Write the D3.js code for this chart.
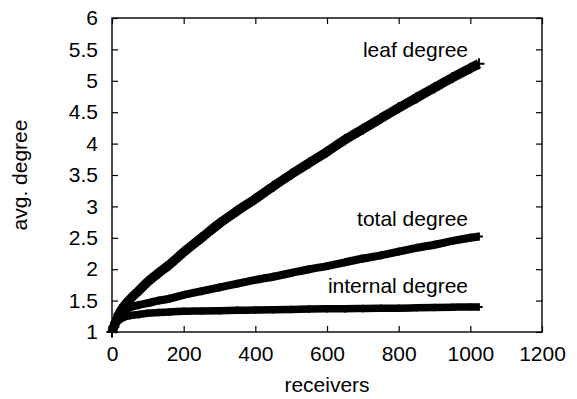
<!DOCTYPE html>
<html>
<head>
<meta charset="utf-8">
<script src="https://cdn.jsdelivr.net/npm/d3@7"></script>
<style>
  html, body { margin: 0; padding: 0; background: #fff; }
  svg { display: block; }
  text { font-family: "Liberation Sans", Arial, Helvetica, sans-serif; fill: #000; }
</style>
</head>
<body>
<svg id="chart" width="577" height="399"></svg>
<script>
// Number of receivers at which the averages were sampled
const receivers = [0, 5, 10, 20, 35, 50, 75, 100, 130, 160, 200, 250, 300, 350, 400, 450,
                   500, 550, 600, 650, 700, 750, 800, 850, 900, 950, 1000, 1024];

// Average degree series
const leafDegree = [1.00, 1.08, 1.15, 1.29, 1.42, 1.52, 1.66, 1.80, 1.94, 2.07, 2.27, 2.50,
                    2.73, 2.93, 3.12, 3.32, 3.51, 3.69, 3.87, 4.06, 4.23, 4.40, 4.57, 4.73,
                    4.89, 5.05, 5.20, 5.27];
const totalDegree = [1.00, 1.10, 1.17, 1.27, 1.35, 1.39, 1.43, 1.46, 1.50, 1.53, 1.59, 1.65,
                     1.71, 1.77, 1.83, 1.88, 1.94, 2.00, 2.05, 2.11, 2.17, 2.22, 2.28, 2.34,
                     2.39, 2.45, 2.50, 2.52];
const internalDegree = [1.00, 1.08, 1.13, 1.19, 1.24, 1.26, 1.28, 1.30, 1.31, 1.32, 1.33, 1.335,
                        1.34, 1.345, 1.35, 1.355, 1.36, 1.365, 1.37, 1.372, 1.375, 1.378, 1.38,
                        1.385, 1.39, 1.395, 1.40, 1.40];

const seriesNames = ["leaf degree", "total degree", "internal degree"];
const xTicks = [0, 200, 400, 600, 800, 1000, 1200];
const yTicks = [1, 1.5, 2, 2.5, 3, 3.5, 4, 4.5, 5, 5.5, 6];

const svg = d3.select("#chart");
const L = 112, R = 542, T = 18, B = 332;

const x = d3.scaleLinear().domain([0, 1200]).range([L, R]);
const y = d3.scaleLinear().domain([1, 6]).range([B, T]);

const fontSize = 21;

// Frame ticks on all four sides, pointing inward
svg.append("g")
  .attr("transform", `translate(0,${B})`)
  .call(d3.axisBottom(x).tickValues(xTicks).tickSize(-6).tickPadding(14).tickFormat(d3.format("d")))
  .call(g => g.select(".domain").remove())
  .call(g => g.selectAll("text").attr("font-size", fontSize).attr("font-family", null));

svg.append("g")
  .attr("transform", `translate(0,${T})`)
  .call(d3.axisTop(x).tickValues(xTicks).tickSize(-6).tickFormat(""))
  .call(g => g.select(".domain").remove());

svg.append("g")
  .attr("transform", `translate(${L},0)`)
  .call(d3.axisLeft(y).tickValues(yTicks).tickSize(-6).tickPadding(14).tickFormat(d3.format("~g")))
  .call(g => g.select(".domain").remove())
  .call(g => g.selectAll("text").attr("font-size", fontSize).attr("font-family", null));

svg.append("g")
  .attr("transform", `translate(${R},0)`)
  .call(d3.axisRight(y).tickValues(yTicks).tickSize(-6).tickFormat(""))
  .call(g => g.select(".domain").remove());

svg.selectAll(".tick line").attr("stroke", "#000").attr("stroke-width", 1.2);

// Plot border
svg.append("rect")
  .attr("x", L).attr("y", T)
  .attr("width", R - L).attr("height", B - T)
  .attr("fill", "none")
  .attr("stroke", "#000")
  .attr("stroke-width", 1.4);

// Series: thick bands built from overlapping markers
const series = [
  { name: seriesNames[0], values: leafDegree, width: 9.5, cross: 11 },
  { name: seriesNames[1], values: totalDegree, width: 8, cross: 8 },
  { name: seriesNames[2], values: internalDegree, width: 7.5, cross: 7.5 }
];

const line = d3.line()
  .x((d, i) => x(receivers[i]))
  .y(d => y(d))
  .curve(d3.curveMonotoneX);

const plot = svg.append("g");
series.forEach(s => {
  plot.append("path")
    .datum(s.values)
    .attr("d", line)
    .attr("fill", "none")
    .attr("stroke", "#000")
    .attr("stroke-width", s.width)
    .attr("stroke-linecap", "butt")
    .attr("stroke-linejoin", "round");

  const half = s.cross / 2;
  plot.selectAll(null)
    .data(s.values)
    .join("path")
    .attr("transform", (d, i) => `translate(${x(receivers[i])},${y(d)})`)
    .attr("d", `M${-half},0H${half}M0,${-half}V${half}`)
    .attr("stroke", "#000")
    .attr("stroke-width", 2);
});

// Series labels
const labelPos = [
  { text: seriesNames[0], y: 57 },
  { text: seriesNames[1], y: 226 },
  { text: seriesNames[2], y: 293 }
];
svg.selectAll(".series-label")
  .data(labelPos)
  .join("text")
  .attr("class", "series-label")
  .attr("x", 468)
  .attr("y", d => d.y)
  .attr("text-anchor", "end")
  .attr("font-size", fontSize)
  .text(d => d.text);

// Axis titles
svg.append("text")
  .attr("x", (L + R) / 2)
  .attr("y", 392)
  .attr("text-anchor", "middle")
  .attr("font-size", fontSize)
  .text("receivers");

svg.append("text")
  .attr("transform", `translate(27,${(T + B) / 2}) rotate(-90)`)
  .attr("text-anchor", "middle")
  .attr("font-size", fontSize)
  .text("avg. degree");
</script>
</body>
</html>
